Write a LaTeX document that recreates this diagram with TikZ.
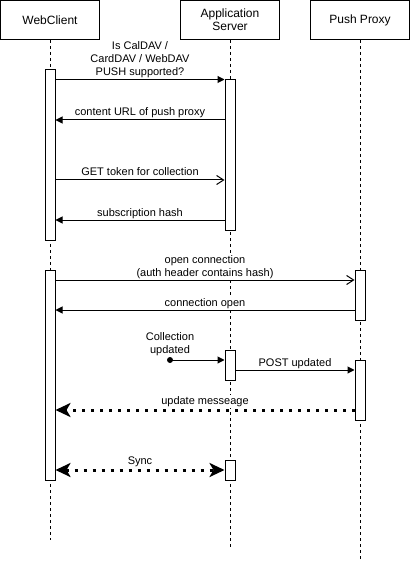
\documentclass[tikz,border=0pt]{standalone}
\usepackage{fontspec}
\setmainfont{Liberation Sans}
\usetikzlibrary{arrows.meta}

\begin{document}
\begin{tikzpicture}[x=1pt,y=-1pt,
  actor/.style={draw,line width=1pt,minimum width=99pt,minimum height=39pt,inner sep=0pt,align=center,font=\fontsize{12}{13}\selectfont},
  bar/.style={draw,fill=white,line width=1pt,minimum width=10pt,inner sep=0pt},
  life/.style={line width=1pt,dash pattern=on 3pt off 3pt},
  lbl/.style={fill=white,inner sep=1pt,text depth=2.5pt,align=center,font=\fontsize{11}{13}\selectfont},
  msg/.style={line width=1pt,-{Triangle[length=7pt,width=7pt]}},
  req/.style={line width=1pt,-{Straight Barb[length=7pt,width=9pt]}},
  async/.style={line width=3pt,dash pattern=on 3pt off 6pt},
  big/.tip={Stealth[length=15pt,width=14pt,inset=4pt]}]

  \useasboundingbox (0,0) rectangle (411,561);

  % participants
  \node[actor] (wc) at (50,20) {WebClient};
  \node[actor] (app) at (230,20) {Application\\Server};
  \node[actor] (px) at (360,20) {Push Proxy};
  \coordinate (wcEnd) at (50,540);
  \coordinate (appEnd) at (230,547);
  \coordinate (pxEnd) at (360,561);
  \draw[life] (wc.south) -- (wcEnd);
  \draw[life] (app.south) -- (appEnd);
  \draw[life] (px.south) -- (pxEnd);

  % activations
  \node[bar,minimum height=170pt] (wcA) at (50,155) {};
  \node[bar,minimum height=150pt] (appA) at (230,155) {};
  \node[bar,minimum height=210pt] (wcB) at (50,375) {};
  \node[bar,minimum height=50pt] (pxA) at (360,295) {};
  \node[bar,minimum height=30pt] (appB) at (230,365) {};
  \node[bar,minimum height=60pt] (pxB) at (360,390) {};
  \node[bar,minimum height=20pt] (appC) at (230,470) {};

  % discovery
  \draw[msg] (wcA.east |- appA.north) -- (appA.north west)
    node[lbl,midway,above=0pt] {Is CalDAV /\\CardDAV / WebDAV\\PUSH supported?};
  \draw[msg] (appA.west |- 0,120) -- (wcA.east |- 0,120)
    node[lbl,midway,above=0pt] {content URL of push proxy};
  \draw[req] (wcA.east |- 0,180) -- (appA.west |- 0,180)
    node[lbl,midway,above=0pt] {GET token for collection};
  \draw[msg] (appA.west |- 0,220) -- (wcA.east |- 0,220)
    node[lbl,midway,above=0pt] {subscription hash};

  % push channel
  \draw[req] (wcB.east |- 0,280) -- (pxA.west |- 0,280)
    node[lbl,midway,above=0pt] {open connection\\(auth header contains hash)};
  \draw[msg] (pxA.west |- 0,310) -- (wcB.east |- 0,310)
    node[lbl,midway,above=0pt] {connection open};

  \node[circle,fill,minimum size=6pt,inner sep=0pt] (dot) at (170,360) {};
  \node[lbl,above=3pt] at (dot) {Collection\\updated};
  \draw[msg] (dot.center) -- (appB.west |- dot);
  \draw[msg] (appB.east |- 0,370) -- (pxB.west |- 0,370)
    node[lbl,midway,above=0pt] {POST updated};
  \draw[async,-big] (pxB.west |- 0,410) -- (wcB.east |- 0,410)
    node[lbl,midway,above=1pt] {update messeage};
  \draw[async,big-big] (wcB.east |- appC.west) -- (appC.west)
    node[lbl,midway,above=1pt] {Sync};
\end{tikzpicture}
\end{document}
